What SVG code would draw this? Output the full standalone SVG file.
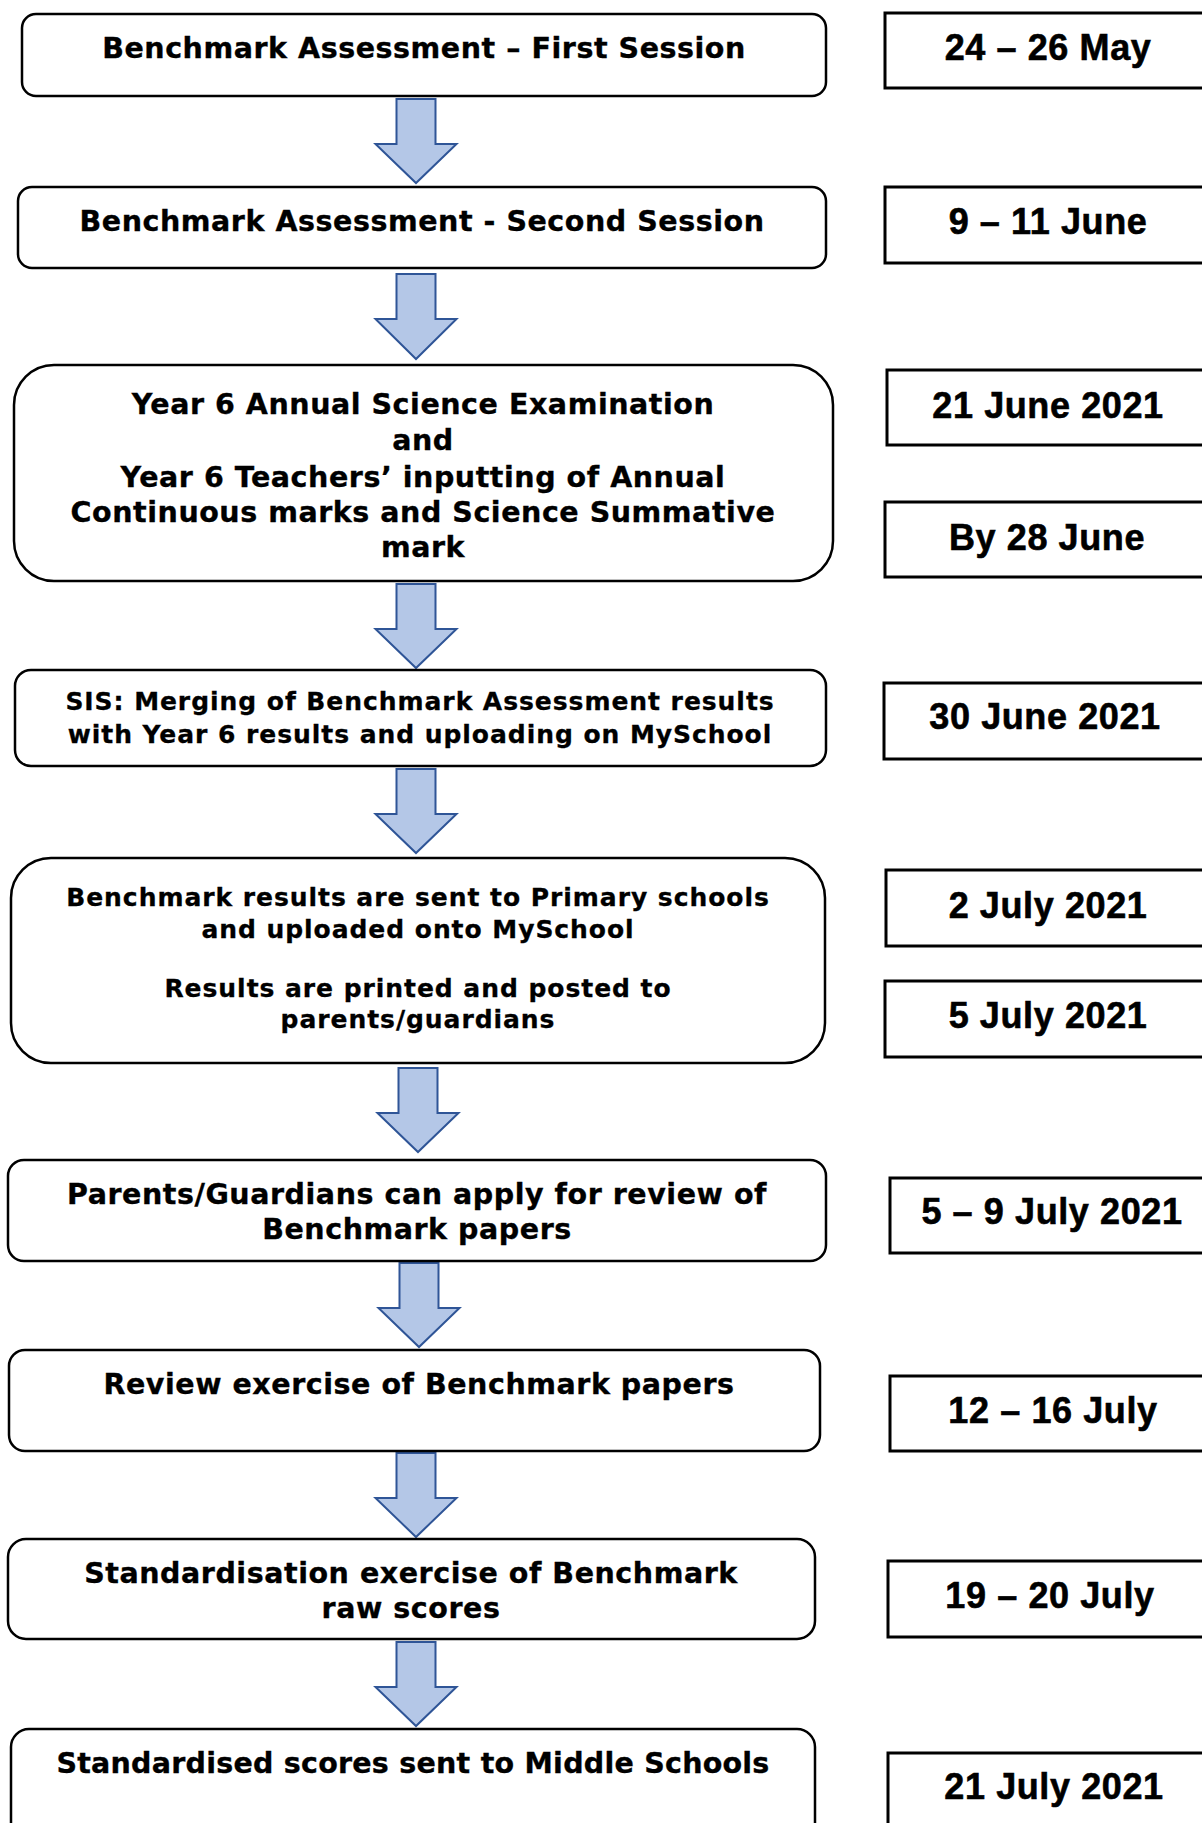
<svg xmlns="http://www.w3.org/2000/svg" width="1202" height="1823" viewBox="0 0 1202 1823">
<style>
.box{fill:#fff;stroke:#000;stroke-width:2.5}
.date{fill:#fff;stroke:#000;stroke-width:3}
.arrow{fill:#B4C7E7;stroke:#2F5597;stroke-width:2;stroke-linejoin:miter}
.t{font-family:"DejaVu Sans",Verdana,sans-serif;font-weight:bold;font-size:28.5px;letter-spacing:0.55px;text-anchor:middle;fill:#000;stroke:#000;stroke-width:0.35}
.ts{font-family:"DejaVu Sans",Verdana,sans-serif;font-weight:bold;font-size:25px;letter-spacing:0.95px;text-anchor:middle;fill:#000;stroke:#000;stroke-width:0.3}
.d{font-family:"Liberation Sans",Arial,sans-serif;font-weight:bold;font-size:36px;letter-spacing:0.6px;text-anchor:middle;fill:#000;stroke:#000;stroke-width:0.6}
</style>
<rect width="1202" height="1823" fill="#fff"/>
<g id="connectors">
<path class="arrow" d="M396.5,99 H435.5 V144 H456.5 L416,183 L375.5,144 H396.5 Z"/>
<path class="arrow" d="M396.5,274 H435.5 V319 H456.5 L416,359 L375.5,319 H396.5 Z"/>
<path class="arrow" d="M396.5,584 H435.5 V629 H456.5 L416,668 L375.5,629 H396.5 Z"/>
<path class="arrow" d="M396.5,769 H435.5 V814 H456.5 L416,853 L375.5,814 H396.5 Z"/>
<path class="arrow" d="M398.5,1068 H437.5 V1113 H458.5 L418,1152 L377.5,1113 H398.5 Z"/>
<path class="arrow" d="M399.5,1263 H438.5 V1308 H459.5 L419,1347 L378.5,1308 H399.5 Z"/>
<path class="arrow" d="M396.5,1453 H435.5 V1498 H456.5 L416,1537 L375.5,1498 H396.5 Z"/>
<path class="arrow" d="M396.5,1642 H435.5 V1687 H456.5 L416,1726 L375.5,1687 H396.5 Z"/>
</g>
<g id="step1">
<rect class="box" x="22" y="14" width="804" height="82" rx="14"/>
<text class="t" x="424" y="58">Benchmark Assessment – First Session</text>
</g>
<g id="date1">
<rect class="date" x="885" y="13" width="330" height="75"/>
<text class="d" x="1048" y="60">24 – 26 May</text>
</g>
<g id="step2">
<rect class="box" x="18" y="187" width="808" height="81" rx="14"/>
<text class="t" x="422" y="231">Benchmark Assessment - Second Session</text>
</g>
<g id="date2">
<rect class="date" x="885" y="187" width="330" height="76"/>
<text class="d" x="1048" y="234">9 – 11 June</text>
</g>
<g id="step3">
<rect class="box" x="14" y="365" width="819" height="216" rx="40"/>
<text class="t" x="423" y="414">Year 6 Annual Science Examination</text>
<text class="t" x="423" y="450">and</text>
<text class="t" x="423" y="487">Year 6 Teachers’ inputting of Annual</text>
<text class="t" x="423" y="522">Continuous marks and Science Summative</text>
<text class="t" x="423" y="557">mark</text>
</g>
<g id="date3a">
<rect class="date" x="887" y="370" width="330" height="75"/>
<text class="d" x="1048" y="418">21 June 2021</text>
</g>
<g id="date3b">
<rect class="date" x="885" y="502" width="330" height="75"/>
<text class="d" x="1047" y="550">By 28 June</text>
</g>
<g id="step4">
<rect class="box" x="15" y="670" width="811" height="96" rx="16"/>
<text class="ts" x="420" y="710">SIS: Merging of Benchmark Assessment results</text>
<text class="ts" x="420" y="743">with Year 6 results and uploading on MySchool</text>
</g>
<g id="date4">
<rect class="date" x="884" y="683" width="330" height="76"/>
<text class="d" x="1045" y="729">30 June 2021</text>
</g>
<g id="step5">
<rect class="box" x="11" y="858" width="814" height="205" rx="40"/>
<text class="ts" x="418" y="906">Benchmark results are sent to Primary schools</text>
<text class="ts" x="418" y="938">and uploaded onto MySchool</text>
<text class="ts" x="418" y="997">Results are printed and posted to</text>
<text class="ts" x="418" y="1028">parents/guardians</text>
</g>
<g id="date5a">
<rect class="date" x="886" y="870" width="330" height="76"/>
<text class="d" x="1048" y="918">2 July 2021</text>
</g>
<g id="date5b">
<rect class="date" x="885" y="981" width="330" height="76"/>
<text class="d" x="1048" y="1028">5 July 2021</text>
</g>
<g id="step6">
<rect class="box" x="8" y="1160" width="818" height="101" rx="16"/>
<text class="t" x="417" y="1204">Parents/Guardians can apply for review of</text>
<text class="t" x="417" y="1239">Benchmark papers</text>
</g>
<g id="date6">
<rect class="date" x="890" y="1178" width="330" height="75"/>
<text class="d" x="1052" y="1224">5 – 9 July 2021</text>
</g>
<g id="step7">
<rect class="box" x="9" y="1350" width="811" height="101" rx="16"/>
<text class="t" x="419" y="1394">Review exercise of Benchmark papers</text>
</g>
<g id="date7">
<rect class="date" x="890" y="1376" width="330" height="75"/>
<text class="d" x="1053" y="1423">12 – 16 July</text>
</g>
<g id="step8">
<rect class="box" x="8" y="1539" width="807" height="100" rx="18"/>
<text class="t" x="411" y="1583">Standardisation exercise of Benchmark</text>
<text class="t" x="411" y="1618">raw scores</text>
</g>
<g id="date8">
<rect class="date" x="888" y="1561" width="330" height="76"/>
<text class="d" x="1050" y="1608">19 – 20 July</text>
</g>
<g id="step9">
<rect class="box" x="11" y="1729" width="804" height="120" rx="18"/>
<text class="t" x="413" y="1773" style="letter-spacing:0.25px">Standardised scores sent to Middle Schools</text>
</g>
<g id="date9">
<rect class="date" x="888" y="1753" width="330" height="100"/>
<text class="d" x="1054" y="1799">21 July 2021</text>
</g>
</svg>
